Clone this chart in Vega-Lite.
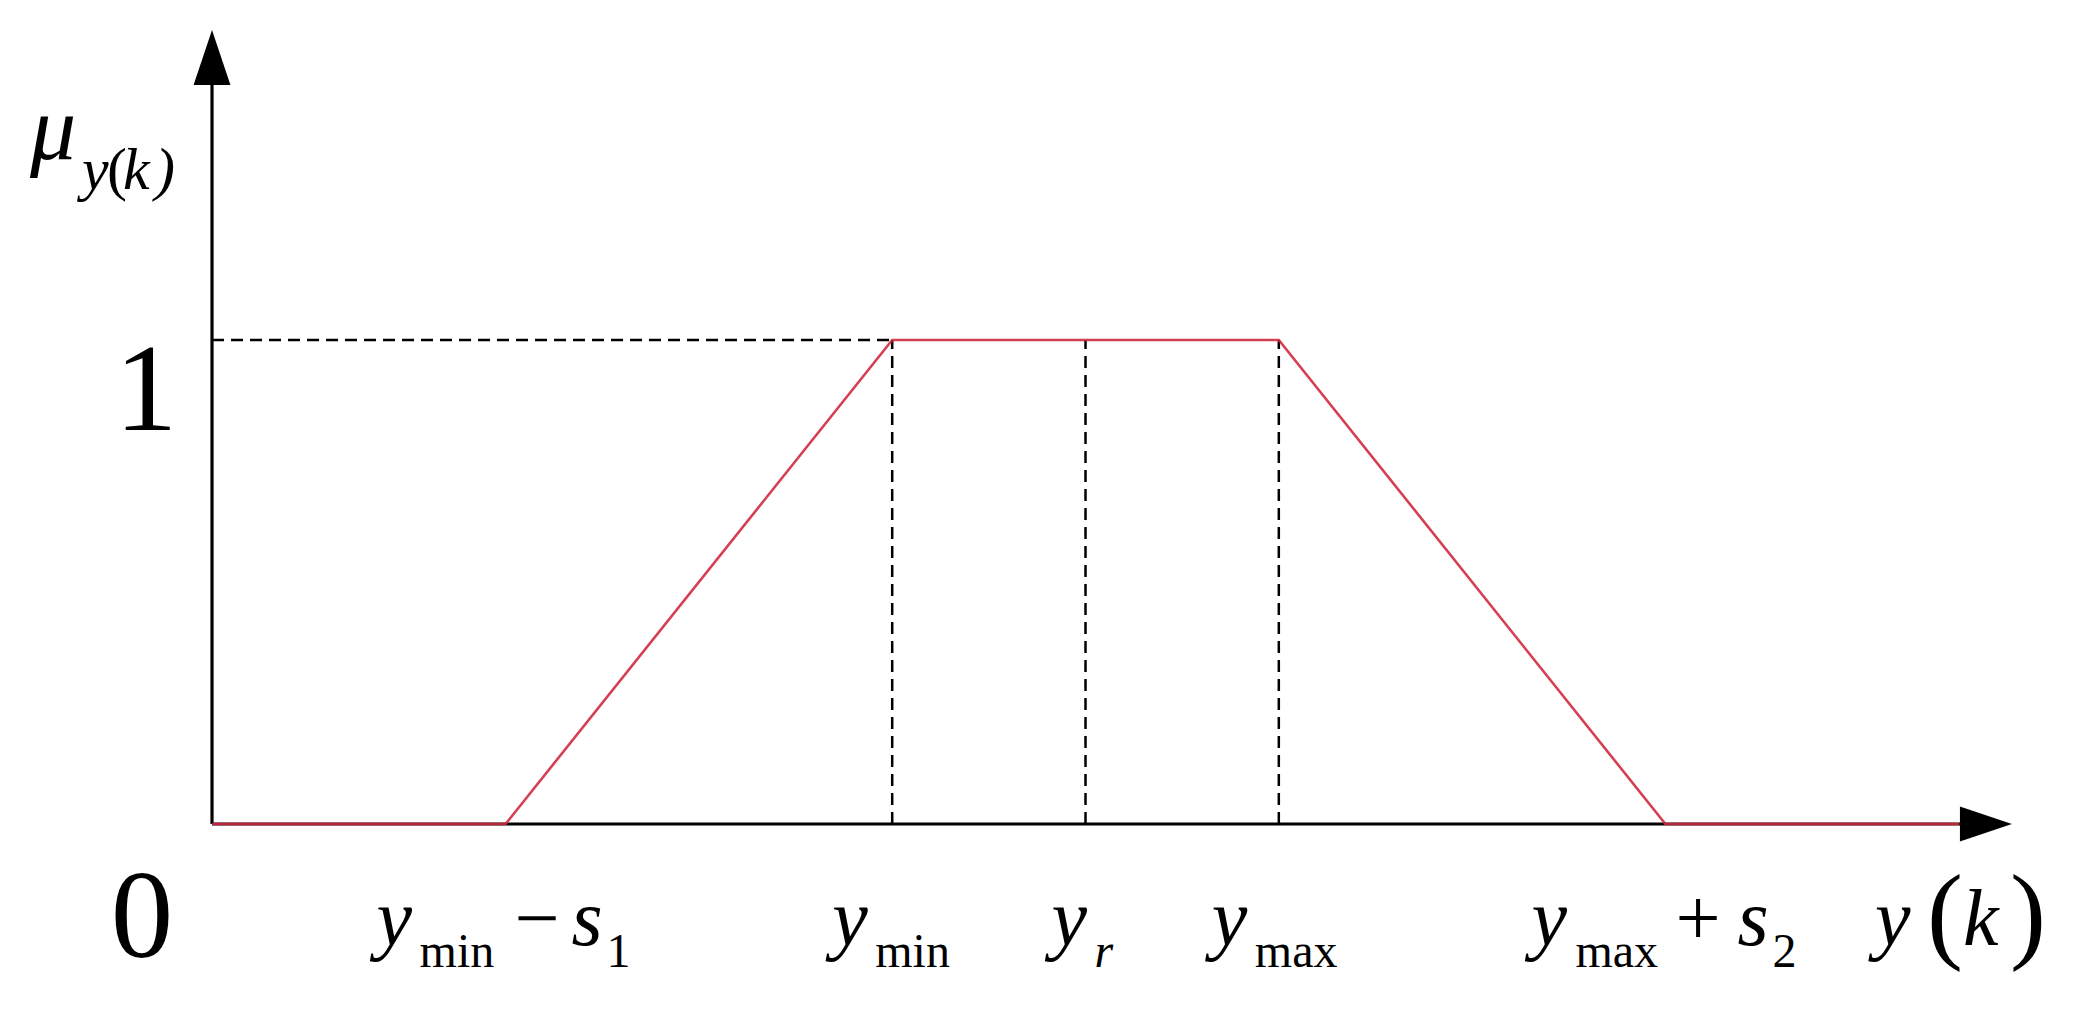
{
  "$schema": "https://vega.github.io/schema/vega-lite/v6.json",
  "width": 2078,
  "height": 1022,
  "padding": 0,
  "autosize": {"type": "fit", "contains": "padding"},
  "background": "white",
  "config": {"view": {"stroke": null}},
  "datasets": {
    "curve": [
      {"x": 0.2406, "y": 0},
      {"x": 1, "y": 0},
      {"x": 2, "y": 1},
      {"x": 3, "y": 1},
      {"x": 4, "y": 0},
      {"x": 4.76, "y": 0}
    ],
    "axes": [
      {"x": 0.2406, "y": 0, "x2": 4.83, "y2": 0},
      {"x": 0.2406, "y": 0, "x2": 0.2406, "y2": 1.58}
    ],
    "guides": [
      {"x": 0.2406, "y": 1, "x2": 2, "y2": 1},
      {"x": 2, "y": 0, "x2": 2, "y2": 1},
      {"x": 2.5, "y": 0, "x2": 2.5, "y2": 1},
      {"x": 3, "y": 0, "x2": 3, "y2": 1}
    ],
    "arrows": [
      {"dir": "up", "x": 0.2406, "y": 1.5837},
      {"dir": "right", "x": 4.829, "y": 0}
    ],
    "ticks": [
      {"id": "ymin_s1", "x": 1, "y": 0},
      {"id": "ymin", "x": 2, "y": 0},
      {"id": "yr", "x": 2.5, "y": 0},
      {"id": "ymax", "x": 3, "y": 0},
      {"id": "ymax_s2", "x": 4, "y": 0},
      {"id": "yk", "x": 4.829, "y": 0},
      {"id": "zero", "x": 0.2406, "y": 0},
      {"id": "one", "x": 0.2406, "y": 1},
      {"id": "mu", "x": 0.2406, "y": 1.5837}
    ]
  },
  "encoding": {
    "x": {"field": "x", "type": "quantitative", "scale": {"domain": [-0.3078, 5.0672], "nice": false, "zero": false}, "axis": null},
    "y": {"field": "y", "type": "quantitative", "scale": {"domain": [-0.4091, 1.7025], "nice": false, "zero": false}, "axis": null}
  },
  "layer": [
    {"data": {"name": "guides"}, "mark": {"type": "rule", "color": "#000", "strokeWidth": 2.5, "strokeDash": [12, 7]},
     "encoding": {"x2": {"field": "x2"}, "y2": {"field": "y2"}}},
    {"data": {"name": "axes"}, "mark": {"type": "rule", "color": "#000", "strokeWidth": 3.2},
     "encoding": {"x2": {"field": "x2"}, "y2": {"field": "y2"}}},
    {"data": {"name": "curve"}, "mark": {"type": "line", "color": "#d02a40", "strokeWidth": 2.6, "opacity": 0.9}},
    {"data": {"name": "arrows"}, "transform": [{"filter": "datum.dir == 'up'"}],
     "mark": {"type": "point", "shape": "M0,-1L0.67,1L-0.67,1Z", "size": 3025, "filled": true, "color": "#000", "opacity": 1}},
    {"data": {"name": "arrows"}, "transform": [{"filter": "datum.dir == 'right'"}],
     "mark": {"type": "point", "shape": "M1,0L-1,0.67L-1,-0.67Z", "size": 2704, "filled": true, "color": "#000", "opacity": 1}},

    {"data": {"name": "ticks"}, "transform": [{"filter": "datum.id == 'ymin_s1'"}],
     "mark": {"type": "text", "text": "y", "font": "Liberation Serif", "fontStyle": "italic", "fontSize": 80, "align": "left", "baseline": "alphabetic", "dx": -129, "dy": 121, "color": "#000"}},
    {"data": {"name": "ticks"}, "transform": [{"filter": "datum.id == 'ymin_s1'"}],
     "mark": {"type": "text", "text": "min", "font": "Liberation Serif", "fontSize": 48, "align": "left", "baseline": "alphabetic", "dx": -86, "dy": 143, "color": "#000"}},
    {"data": {"name": "ticks"}, "transform": [{"filter": "datum.id == 'ymin_s1'"}],
     "mark": {"type": "text", "text": "−", "font": "Liberation Serif", "fontSize": 80, "align": "left", "baseline": "alphabetic", "dx": 9, "dy": 121, "color": "#000"}},
    {"data": {"name": "ticks"}, "transform": [{"filter": "datum.id == 'ymin_s1'"}],
     "mark": {"type": "text", "text": "s", "font": "Liberation Serif", "fontStyle": "italic", "fontSize": 80, "align": "left", "baseline": "alphabetic", "dx": 66, "dy": 121, "color": "#000"}},
    {"data": {"name": "ticks"}, "transform": [{"filter": "datum.id == 'ymin_s1'"}],
     "mark": {"type": "text", "text": "1", "font": "Liberation Serif", "fontSize": 48, "align": "left", "baseline": "alphabetic", "dx": 101, "dy": 143, "color": "#000"}},

    {"data": {"name": "ticks"}, "transform": [{"filter": "datum.id == 'ymin'"}],
     "mark": {"type": "text", "text": "y", "font": "Liberation Serif", "fontStyle": "italic", "fontSize": 80, "align": "left", "baseline": "alphabetic", "dx": -60, "dy": 121, "color": "#000"}},
    {"data": {"name": "ticks"}, "transform": [{"filter": "datum.id == 'ymin'"}],
     "mark": {"type": "text", "text": "min", "font": "Liberation Serif", "fontSize": 48, "align": "left", "baseline": "alphabetic", "dx": -17, "dy": 143, "color": "#000"}},

    {"data": {"name": "ticks"}, "transform": [{"filter": "datum.id == 'yr'"}],
     "mark": {"type": "text", "text": "y", "font": "Liberation Serif", "fontStyle": "italic", "fontSize": 80, "align": "left", "baseline": "alphabetic", "dx": -34, "dy": 121, "color": "#000"}},
    {"data": {"name": "ticks"}, "transform": [{"filter": "datum.id == 'yr'"}],
     "mark": {"type": "text", "text": "r", "font": "Liberation Serif", "fontStyle": "italic", "fontSize": 48, "align": "left", "baseline": "alphabetic", "dx": 9, "dy": 143, "color": "#000"}},

    {"data": {"name": "ticks"}, "transform": [{"filter": "datum.id == 'ymax'"}],
     "mark": {"type": "text", "text": "y", "font": "Liberation Serif", "fontStyle": "italic", "fontSize": 80, "align": "left", "baseline": "alphabetic", "dx": -67, "dy": 121, "color": "#000"}},
    {"data": {"name": "ticks"}, "transform": [{"filter": "datum.id == 'ymax'"}],
     "mark": {"type": "text", "text": "max", "font": "Liberation Serif", "fontSize": 48, "align": "left", "baseline": "alphabetic", "dx": -24, "dy": 143, "color": "#000"}},

    {"data": {"name": "ticks"}, "transform": [{"filter": "datum.id == 'ymax_s2'"}],
     "mark": {"type": "text", "text": "y", "font": "Liberation Serif", "fontStyle": "italic", "fontSize": 80, "align": "left", "baseline": "alphabetic", "dx": -134, "dy": 121, "color": "#000"}},
    {"data": {"name": "ticks"}, "transform": [{"filter": "datum.id == 'ymax_s2'"}],
     "mark": {"type": "text", "text": "max", "font": "Liberation Serif", "fontSize": 48, "align": "left", "baseline": "alphabetic", "dx": -90, "dy": 143, "color": "#000"}},
    {"data": {"name": "ticks"}, "transform": [{"filter": "datum.id == 'ymax_s2'"}],
     "mark": {"type": "text", "text": "+", "font": "Liberation Serif", "fontSize": 80, "align": "left", "baseline": "alphabetic", "dx": 10, "dy": 121, "color": "#000"}},
    {"data": {"name": "ticks"}, "transform": [{"filter": "datum.id == 'ymax_s2'"}],
     "mark": {"type": "text", "text": "s", "font": "Liberation Serif", "fontStyle": "italic", "fontSize": 80, "align": "left", "baseline": "alphabetic", "dx": 72, "dy": 121, "color": "#000"}},
    {"data": {"name": "ticks"}, "transform": [{"filter": "datum.id == 'ymax_s2'"}],
     "mark": {"type": "text", "text": "2", "font": "Liberation Serif", "fontSize": 48, "align": "left", "baseline": "alphabetic", "dx": 107, "dy": 143, "color": "#000"}},

    {"data": {"name": "ticks"}, "transform": [{"filter": "datum.id == 'yk'"}],
     "mark": {"type": "text", "text": "y", "font": "Liberation Serif", "fontStyle": "italic", "fontSize": 80, "align": "left", "baseline": "alphabetic", "dx": -111, "dy": 121, "color": "#000"}},
    {"data": {"name": "ticks"}, "transform": [{"filter": "datum.id == 'yk'"}],
     "mark": {"type": "text", "text": "(", "font": "Liberation Serif", "fontSize": 108, "align": "left", "baseline": "alphabetic", "dx": -59, "dy": 125, "color": "#000"}},
    {"data": {"name": "ticks"}, "transform": [{"filter": "datum.id == 'yk'"}],
     "mark": {"type": "text", "text": "k", "font": "Liberation Serif", "fontStyle": "italic", "fontSize": 80, "align": "left", "baseline": "alphabetic", "dx": -23, "dy": 121, "color": "#000"}},
    {"data": {"name": "ticks"}, "transform": [{"filter": "datum.id == 'yk'"}],
     "mark": {"type": "text", "text": ")", "font": "Liberation Serif", "fontSize": 108, "align": "left", "baseline": "alphabetic", "dx": 24, "dy": 125, "color": "#000"}},

    {"data": {"name": "ticks"}, "transform": [{"filter": "datum.id == 'zero'"}],
     "mark": {"type": "text", "text": "0", "font": "Liberation Serif", "fontSize": 125, "align": "center", "baseline": "alphabetic", "dx": -70, "dy": 133, "color": "#000"}},
    {"data": {"name": "ticks"}, "transform": [{"filter": "datum.id == 'one'"}],
     "mark": {"type": "text", "text": "1", "font": "Liberation Serif", "fontSize": 125, "align": "center", "baseline": "alphabetic", "dx": -66, "dy": 90, "color": "#000"}},

    {"data": {"name": "ticks"}, "transform": [{"filter": "datum.id == 'mu'"}],
     "mark": {"type": "text", "text": "μ", "font": "Liberation Serif", "fontStyle": "italic", "fontSize": 92, "align": "left", "baseline": "alphabetic", "dx": -182, "dy": 102, "color": "#000"}},
    {"data": {"name": "ticks"}, "transform": [{"filter": "datum.id == 'mu'"}],
     "mark": {"type": "text", "text": "y", "font": "Liberation Serif", "fontStyle": "italic", "fontSize": 60, "align": "left", "baseline": "alphabetic", "dx": -130, "dy": 132, "color": "#000"}},
    {"data": {"name": "ticks"}, "transform": [{"filter": "datum.id == 'mu'"}],
     "mark": {"type": "text", "text": "(", "font": "Liberation Serif", "fontSize": 60, "align": "left", "baseline": "alphabetic", "dx": -105, "dy": 132, "color": "#000"}},
    {"data": {"name": "ticks"}, "transform": [{"filter": "datum.id == 'mu'"}],
     "mark": {"type": "text", "text": "k", "font": "Liberation Serif", "fontStyle": "italic", "fontSize": 60, "align": "left", "baseline": "alphabetic", "dx": -89, "dy": 132, "color": "#000"}},
    {"data": {"name": "ticks"}, "transform": [{"filter": "datum.id == 'mu'"}],
     "mark": {"type": "text", "text": ")", "font": "Liberation Serif", "fontStyle": "italic", "fontSize": 60, "align": "left", "baseline": "alphabetic", "dx": -57, "dy": 132, "color": "#000"}}
  ]
}
